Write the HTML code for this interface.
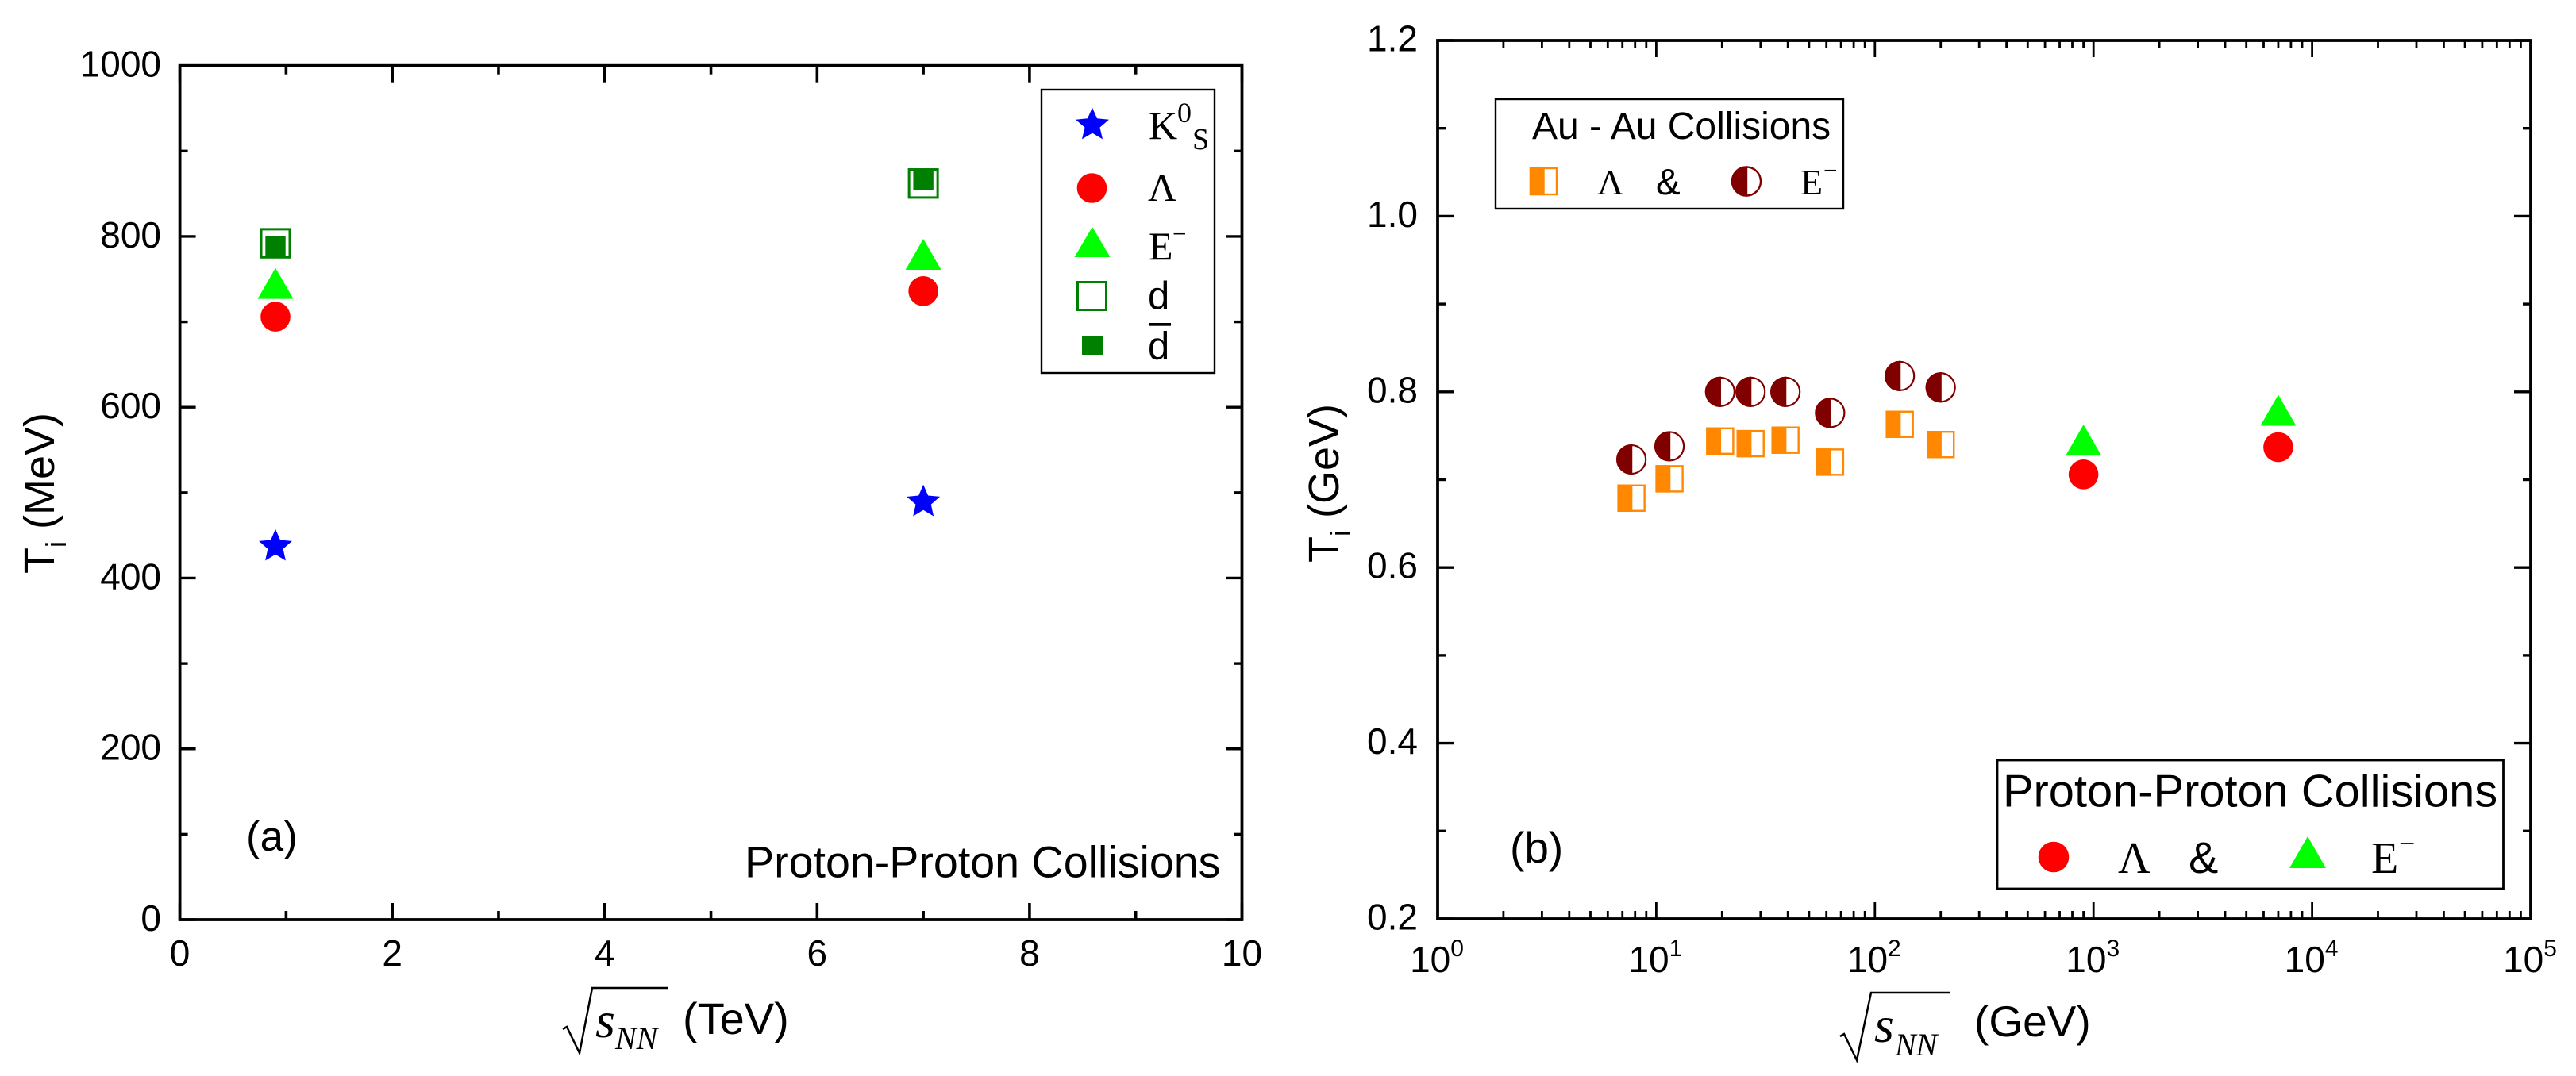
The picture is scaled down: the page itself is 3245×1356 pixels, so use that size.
<!DOCTYPE html>
<html lang="en">
<head>
<meta charset="utf-8">
<title>Ti versus collision energy</title>
<style>
html,body{margin:0;padding:0;background:#fff;}
svg{display:block;}
text{font-family:"Liberation Sans",Arial,sans-serif;fill:#000;}
.serif{font-family:"Liberation Serif","Times New Roman",serif;}
.tick{font-size:46px;}
.ital{font-family:"Liberation Serif","Times New Roman",serif;font-style:italic;}
</style>
</head>
<body>
<svg id="figure" xmlns="http://www.w3.org/2000/svg" width="3245" height="1356" viewBox="0 0 3245 1356">
  <rect x="0" y="0" width="3245" height="1356" fill="#fff"/>
  <g id="panelA"></g>
  <g id="panelB"></g>

  <!-- Panel a static labels -->
  <text transform="translate(68,723) rotate(-90)" font-size="54">T<tspan font-size="36" dy="15">i</tspan><tspan dy="-15"> (MeV)</tspan></text>
  <g>
    <path d="M709 1297 L714 1294 L730 1327 L746 1245 L842 1245" fill="none" stroke="#000" stroke-width="2.5"/>
    <text class="ital" x="750" y="1307" font-size="64">s</text>
    <text class="ital" x="775" y="1322" font-size="40">NN</text>
    <text x="860" y="1303" font-size="56">(TeV)</text>
  </g>
  <text x="310" y="1072" font-size="53">(a)</text>
  <text x="938" y="1105.5" font-size="55.6">Proton-Proton Collisions</text>

  <!-- Panel a legend -->
  <g>
    <rect x="1312" y="113" width="218" height="357" fill="#fff" stroke="#000" stroke-width="2.4"/>
    <polygon fill="#0000ff" points="1376,135.6 1382,149.2 1397,150.8 1385.5,160.6 1389,175.4 1376,167.6 1363,175.4 1366.5,160.6 1355,150.8 1370,149.2"/>
    <circle cx="1375.5" cy="237" r="18.8" fill="#ff0000"/>
    <polygon points="1376,286 1398.5,324 1353.5,324" fill="#00ff00"/>
    <rect x="1357.5" y="355.5" width="36" height="35" fill="#fff" stroke="#008000" stroke-width="3"/>
    <rect x="1363" y="423" width="26" height="25" fill="#008000"/>
    <text class="serif" x="1447" y="175" font-size="50">K</text>
    <text class="serif" x="1483" y="154" font-size="36">0</text>
    <text class="serif" x="1502" y="188" font-size="38">S</text>
    <text class="serif" x="1446" y="253" font-size="50">Λ</text>
    <text class="serif" x="1447" y="327" font-size="50">E</text>
    <text class="serif" x="1477" y="305" font-size="31">−</text>
    <text x="1446" y="389" font-size="49">d</text>
    <text x="1446" y="452.7" font-size="49">d</text>
    <rect x="1447" y="407" width="28" height="3.7" fill="#000"/>
  </g>

  <!-- Panel b static labels -->
  <text transform="translate(1686,709) rotate(-90)" font-size="54">T<tspan font-size="36" dy="15">i</tspan><tspan dy="-15"> (GeV)</tspan></text>
  <g>
    <path d="M2318 1306 L2323 1303 L2339 1336 L2357 1251 L2456 1251" fill="none" stroke="#000" stroke-width="2.5"/>
    <text class="ital" x="2361" y="1313" font-size="64">s</text>
    <text class="ital" x="2387" y="1330" font-size="40">NN</text>
    <text x="2487" y="1306" font-size="55">(GeV)</text>
  </g>
  <text x="1902" y="1087" font-size="55">(b)</text>

  <!-- Panel b Au-Au legend -->
  <g>
    <rect x="1884" y="125" width="438" height="138" fill="#fff" stroke="#000" stroke-width="2.4"/>
    <text x="1930" y="175" font-size="48">Au - Au Collisions</text>
    <rect x="1928" y="212" width="33" height="33" fill="#fff" stroke="#ff8800" stroke-width="2.4"/>
    <rect x="1928" y="212" width="16.5" height="33" fill="#ff8800" stroke="#ff8800" stroke-width="2.4"/>
    <text class="serif" x="2012" y="245" font-size="46">Λ</text>
    <text x="2086" y="245" font-size="46">&amp;</text>
    <ellipse cx="2200" cy="228.5" rx="18" ry="18" fill="#fff" stroke="#800000" stroke-width="2.4"/>
    <path d="M2200 210.5 A18 18 0 0 0 2200 246.5 Z" fill="#800000" stroke="#800000" stroke-width="2.4"/>
    <text class="serif" x="2268" y="245" font-size="46">E</text>
    <text class="serif" x="2297" y="225" font-size="31">−</text>
  </g>

  <!-- Panel b pp legend -->
  <g>
    <rect x="2516" y="958" width="637.5" height="162" fill="#fff" stroke="#000" stroke-width="2.8"/>
    <text x="2523" y="1016.5" font-size="57.8">Proton-Proton Collisions</text>
    <circle cx="2587" cy="1080" r="19.3" fill="#ff0000"/>
    <text class="serif" x="2668" y="1100" font-size="56">Λ</text>
    <text x="2757" y="1100" font-size="56">&amp;</text>
    <polygon points="2907,1054 2930,1094 2884,1094" fill="#00ff00"/>
    <text class="serif" x="2987" y="1100" font-size="56">E</text>
    <text class="serif" x="3022" y="1075" font-size="36">−</text>
  </g>
</svg>

<script>
// ---- Panel (a) data ----
const ppEnergiesTeV = [0.9, 7];
const k0sTemps = [437, 489];
const lambdaTemps = [706, 736];
const xiTemps = [745, 779];
const deuteronTemps = [792, 862];
const antiDeuteronTemps = [789, 866];
const panelAXTicks = [0, 2, 4, 6, 8, 10];
const panelAXMinor = [1, 3, 5, 7, 9];
const panelAYTicks = [0, 200, 400, 600, 800, 1000];
const panelAYMinor = [100, 300, 500, 700, 900];

// ---- Panel (b) data ----
const auEnergiesGeV = [7.7, 11.5, 19.6, 27, 39, 62.4, 130, 200];
const auLambdaTemps = [0.679, 0.701, 0.744, 0.741, 0.745, 0.720, 0.763, 0.740];
const auXiTemps = [0.723, 0.738, 0.800, 0.800, 0.800, 0.776, 0.818, 0.805];
const ppEnergiesGeV = [900, 7000];
const ppLambdaTemps = [0.706, 0.737];
const ppXiTemps = [0.745, 0.779];
const panelBXExponents = [0, 1, 2, 3, 4, 5];
const panelBXMinorFactors = [2, 3, 4, 5, 6, 7, 8, 9];
const panelBYTicks = [0.2, 0.4, 0.6, 0.8, 1.0, 1.2];
const panelBYMinor = [0.3, 0.5, 0.7, 0.9, 1.1];

const NS = 'http://www.w3.org/2000/svg';
const panelA = document.getElementById('panelA');
const panelB = document.getElementById('panelB');

const A = {left: 226.6, right: 1564.5, top: 82.7, bottom: 1159};
const B = {left: 1811, right: 3188, top: 51, bottom: 1158};

function xA(v) { return A.left + (v - 0) / (10 - 0) * (A.right - A.left); }
function yA(v) { return A.bottom - (v - 0) / (1000 - 0) * (A.bottom - A.top); }
function xB(v) { return B.left + (Math.log10(v) - 0) / (5 - 0) * (B.right - B.left); }
function yB(v) { return B.bottom - (v - 0.2) / (1.2 - 0.2) * (B.bottom - B.top); }

function make(parent, tag, name, props) {
  const el = document.createElementNS(NS, tag);
  
  
  for (const k in props) { el.setAttribute(k, props[k]); }
  parent.appendChild(el);
  return el;
}

function seg(parent, name, x1, y1, x2, y2, w) {
  return make(parent, 'line', name, {x1: x1, y1: y1, x2: x2, y2: y2, stroke: '#000', 'stroke-width': w});
}

function frame(parent, prefix, box) {
  make(parent, 'rect', prefix + '-frame', {x: box.left, y: box.top, width: box.right - box.left, height: box.bottom - box.top, fill: 'none', stroke: '#000', 'stroke-width': 3.8});
}

function label(parent, name, x, y, anchor, str) {
  const t = make(parent, 'text', name, {x: x, y: y, 'text-anchor': anchor, class: 'tick'});
  t.textContent = str;
  return t;
}

function star(parent, name, cx, cy, R) {
  const r = R * 0.46;
  const pts = [];
  for (let i = 0; i < 10; i++) {
    const rad = i % 2 === 0 ? R : r;
    const a = -Math.PI / 2 + i * Math.PI / 5;
    pts.push((cx + rad * Math.cos(a)).toFixed(1) + ',' + (cy + rad * Math.sin(a)).toFixed(1));
  }
  make(parent, 'polygon', name, {points: pts.join(' '), fill: '#0000ff'});
}

function circle(parent, name, cx, cy) {
  make(parent, 'circle', name, {cx: cx, cy: cy, r: 18.8, fill: '#ff0000'});
}

function triangle(parent, name, cx, cy) {
  const h = 19.5, w = 22.5;
  make(parent, 'polygon', name, {points: cx + ',' + (cy - h) + ' ' + (cx + w) + ',' + (cy + h) + ' ' + (cx - w) + ',' + (cy + h), fill: '#00ff00'});
}

function openSquare(parent, name, cx, cy) {
  make(parent, 'rect', name, {x: cx - 18, y: cy - 17.7, width: 36, height: 35.4, fill: 'none', stroke: '#008000', 'stroke-width': 3});
}

function filledSquare(parent, name, cx, cy) {
  make(parent, 'rect', name, {x: cx - 12.7, y: cy - 12.5, width: 25.4, height: 25, fill: '#008000'});
}

function halfSquare(parent, name, cx, cy) {
  const g = make(parent, 'g', name, {});
  make(g, 'rect', name + '-outline', {x: cx - 16.5, y: cy - 16, width: 33, height: 32, fill: '#fff', stroke: '#ff8800', 'stroke-width': 2.4});
  make(g, 'rect', name + '-fill', {x: cx - 16.5, y: cy - 16, width: 16.5, height: 32, fill: '#ff8800', stroke: '#ff8800', 'stroke-width': 2.4});
}

function halfCircle(parent, name, cx, cy) {
  const g = make(parent, 'g', name, {});
  make(g, 'circle', name + '-outline', {cx: cx, cy: cy, r: 18, fill: '#fff', stroke: '#800000', 'stroke-width': 2.2});
  make(g, 'path', name + '-fill', {d: 'M' + cx + ' ' + (cy - 18) + ' A18 18 0 0 0 ' + cx + ' ' + (cy + 18) + ' Z', fill: '#800000', stroke: '#800000', 'stroke-width': 2.2});
}

// ---- Panel (a) axes ----
frame(panelA, 'panel-a-axes', A);
panelAXTicks.forEach(function (v) {
  seg(panelA, 'panel-a-x-major-tick-bottom', xA(v), A.bottom, xA(v), A.bottom - 21, 3.6);
  seg(panelA, 'panel-a-x-major-tick-top', xA(v), A.top, xA(v), A.top + 21, 3.6);
  label(panelA, 'panel-a-x-tick-label', xA(v), 1217, 'middle', String(v));
});
panelAXMinor.forEach(function (v) {
  seg(panelA, 'panel-a-x-minor-tick-bottom', xA(v), A.bottom, xA(v), A.bottom - 11, 3.6);
  seg(panelA, 'panel-a-x-minor-tick-top', xA(v), A.top, xA(v), A.top + 11, 3.6);
});
panelAYTicks.forEach(function (v) {
  seg(panelA, 'panel-a-y-major-tick-left', A.left, yA(v), A.left + 20, yA(v), 3.4);
  seg(panelA, 'panel-a-y-major-tick-right', A.right, yA(v), A.right - 20, yA(v), 3.4);
  label(panelA, 'panel-a-y-tick-label', 203, yA(v) + 14, 'end', String(v));
});
panelAYMinor.forEach(function (v) {
  seg(panelA, 'panel-a-y-minor-tick-left', A.left, yA(v), A.left + 10, yA(v), 3.4);
  seg(panelA, 'panel-a-y-minor-tick-right', A.right, yA(v), A.right - 10, yA(v), 3.4);
});

// ---- Panel (a) series ----
ppEnergiesTeV.forEach(function (e, i) {
  star(panelA, 'k0s-point', xA(e), yA(k0sTemps[i]), 22);
  circle(panelA, 'lambda-point', xA(e), yA(lambdaTemps[i]));
  triangle(panelA, 'xi-point', xA(e), yA(xiTemps[i]));
  openSquare(panelA, 'deuteron-point', xA(e), yA(deuteronTemps[i]));
  filledSquare(panelA, 'antideuteron-point', xA(e), yA(antiDeuteronTemps[i]));
});

// ---- Panel (b) axes ----
frame(panelB, 'panel-b-axes', B);
panelBXExponents.forEach(function (p) {
  const v = Math.pow(10, p);
  seg(panelB, 'panel-b-x-major-tick-bottom', xB(v), B.bottom, xB(v), B.bottom - 21, 2.8);
  seg(panelB, 'panel-b-x-major-tick-top', xB(v), B.top, xB(v), B.top + 21, 2.8);
  const t = make(panelB, 'text', 'panel-b-x-tick-label', {x: xB(v) - 1, y: 1225, 'text-anchor': 'middle', class: 'tick', 'font-size': 46});
  const base = make(t, 'tspan', 'panel-b-x-tick-base', {});
  base.textContent = '10';
  const exp = make(t, 'tspan', 'panel-b-x-tick-exponent', {dy: -20, 'font-size': 30, style: 'font-size:30px'});
  exp.textContent = String(p);
  if (p < 5) {
    panelBXMinorFactors.forEach(function (f) {
      seg(panelB, 'panel-b-x-minor-tick-bottom', xB(f * v), B.bottom, xB(f * v), B.bottom - 10, 2.8);
      seg(panelB, 'panel-b-x-minor-tick-top', xB(f * v), B.top, xB(f * v), B.top + 10, 2.8);
    });
  }
});
panelBYTicks.forEach(function (v) {
  seg(panelB, 'panel-b-y-major-tick-left', B.left, yB(v), B.left + 21, yB(v), 3.4);
  seg(panelB, 'panel-b-y-major-tick-right', B.right, yB(v), B.right - 21, yB(v), 3.4);
  label(panelB, 'panel-b-y-tick-label', 1786, yB(v) + 13.5, 'end', v.toFixed(1));
});
panelBYMinor.forEach(function (v) {
  seg(panelB, 'panel-b-y-minor-tick-left', B.left, yB(v), B.left + 10, yB(v), 3.4);
  seg(panelB, 'panel-b-y-minor-tick-right', B.right, yB(v), B.right - 10, yB(v), 3.4);
});

// ---- Panel (b) series ----
auEnergiesGeV.forEach(function (e, i) {
  halfSquare(panelB, 'au-lambda-point', xB(e), yB(auLambdaTemps[i]));
  halfCircle(panelB, 'au-xi-point', xB(e), yB(auXiTemps[i]));
});
ppEnergiesGeV.forEach(function (e, i) {
  circle(panelB, 'pp-lambda-point', xB(e), yB(ppLambdaTemps[i]));
  triangle(panelB, 'pp-xi-point', xB(e), yB(ppXiTemps[i]));
});
</script>
</body>
</html>
